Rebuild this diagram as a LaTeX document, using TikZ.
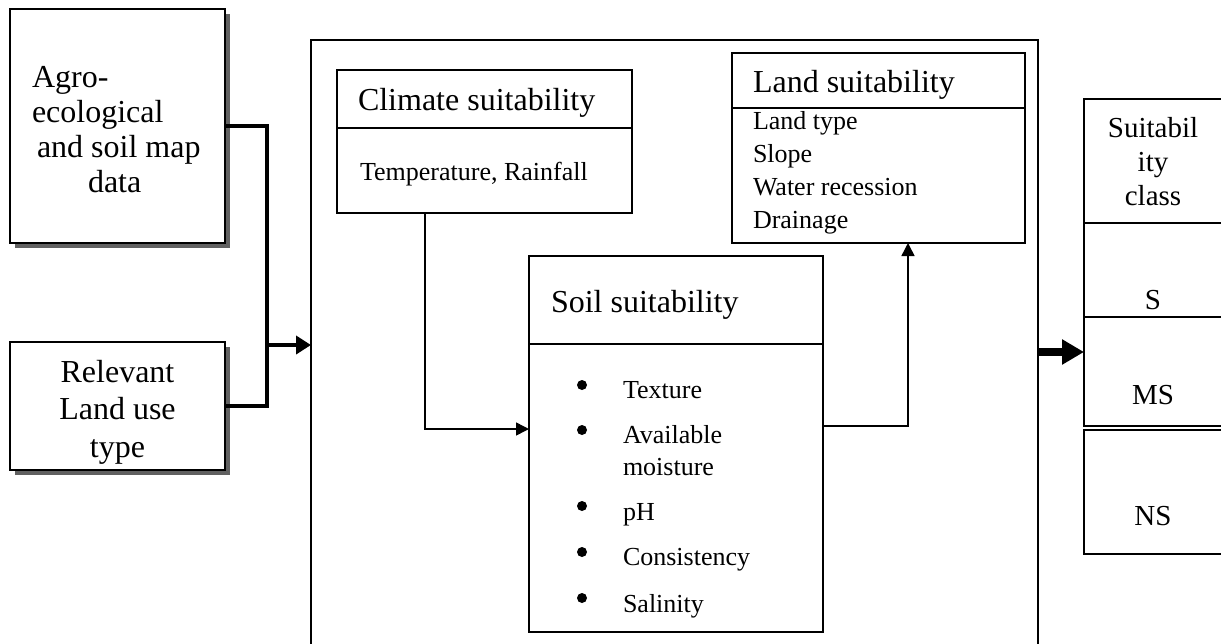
\documentclass[tikz,border=0pt]{standalone}
\usepackage{fontspec}
\setmainfont{Liberation Serif}
\usetikzlibrary{arrows.meta}
\newcommand\fsTitle{\fontsize{32}{35}\selectfont}
\newcommand\fsBody{\fontsize{26}{33}\selectfont}
\newcommand\fsSuit{\fontsize{29}{34}\selectfont}
\begin{document}
\begin{tikzpicture}[x=1pt,y=-1pt,
  box/.style={draw, line width=1.8pt, fill=white, inner sep=0pt, outer sep=0pt, anchor=north west},
  shadowbox/.style={fill=black!62, draw=none, inner sep=0pt, outer sep=0pt, anchor=north west},
  txt/.style={inner sep=0pt, outer sep=0pt},
  divider/.style={line width=1.8pt},
  thickline/.style={line width=4.5pt, line join=miter},
  thinarrow/.style={line width=1.5pt, -{Triangle[length=13pt,width=13pt]}},
  bigarrow/.style={line width=8pt, -{Triangle[length=22pt,width=24pt]}},
]
\useasboundingbox (0,0) rectangle (1221,643);
\clip (0,0) rectangle (1221,643);
\fill[white] (0,0) rectangle (1221,643);

% input boxes with shadows
\node[shadowbox, minimum width=215pt, minimum height=234pt] (agrosh) at (15,14) {};
\node[box, minimum width=215pt, minimum height=234pt] (agro) at (10,9) {};
\node[shadowbox, minimum width=215pt, minimum height=128pt] (relsh) at (15,347) {};
\node[box, minimum width=215pt, minimum height=128pt] (rel) at (10,342) {};

% big frame
\node[box, line width=2.6pt, minimum width=727pt, minimum height=640pt] (big) at (311,40) {};

% climate
\node[box, minimum width=295pt, minimum height=143pt] (climate) at (337,70) {};
\coordinate (ydivc) at (0,128);
\draw[divider] (climate.west |- ydivc) -- (climate.east |- ydivc);

% land
\node[box, minimum width=293pt, minimum height=190pt] (land) at (732,53) {};
\coordinate (ydivl) at (0,108);
\draw[divider] (land.west |- ydivl) -- (land.east |- ydivl);

% soil
\node[box, minimum width=294pt, minimum height=376pt] (soil) at (529,256) {};
\coordinate (ydivs) at (0,344);
\draw[divider] (soil.west |- ydivs) -- (soil.east |- ydivs);

% suitability class column
\node[box, minimum width=150pt, minimum height=233pt] (suit) at (1084,99) {};
\coordinate (ydivk) at (0,223);
\draw[divider] (suit.west |- ydivk) -- (suit.east |- ydivk);
\node[box, minimum width=150pt, minimum height=109pt] (ms) at (1084,317) {};
\node[box, minimum width=150pt, minimum height=124pt] (ns) at (1084,430) {};

% connectors
\coordinate (jtop) at (267,126);
\coordinate (jbot) at (267,406);
\coordinate (jmid) at (267,345);
\draw[thickline] (agro.east) -- (jtop) -- (jbot) -- (rel.east);
\draw[thickline, -{Triangle[length=15pt,width=18pt]}] (jmid) -- (big.west |- jmid);

\coordinate (xclim) at (425,0);
\coordinate (ysoilin) at (0,429);
\draw[thinarrow] (climate.south -| xclim) |- (soil.west |- ysoilin);

\coordinate (ysoilout) at (0,426);
\coordinate (xland) at (908,0);
\draw[thinarrow] (soil.east |- ysoilout) -| (land.south -| xland);

\coordinate (ybig) at (0,352);
\draw[bigarrow] (big.east |- ybig) -- (ms.west |- ybig);

% texts
\node[txt, anchor=base west] (agrotext) at (32,87) {\parbox[t]{190pt}{\fontsize{32}{35}\selectfont Agro-\\ecological\\\hspace*{5pt}and soil map\\\hspace*{56pt}data}};
\node[txt, anchor=base] (reltext) at (117.5,382) {\parbox[t]{215pt}{\centering\fontsize{32}{37.5}\selectfont Relevant\\Land use\\type}};

\node[txt, anchor=base west] (climatetitle) at (358,110) {\fsTitle Climate suitability};
\node[txt, anchor=base west] (climatebody) at (360,180) {\fsBody Temperature, Rainfall};

\node[txt, anchor=base west] (landtitle) at (753,92) {\fsTitle Land suitability};
\node[txt, anchor=base west] (landbody) at (753,129) {\parbox[t]{260pt}{\fsBody Land type\\Slope\\Water recession\\Drainage}};

\node[txt, anchor=base west] (soiltitle) at (551,312) {\fsTitle Soil suitability};
\node[txt, anchor=base west] (texture) at (623,398) {\fsBody Texture};
\node[txt, anchor=base west] (moisture) at (623,443) {\parbox[t]{180pt}{\fontsize{26}{32}\selectfont Available\\moisture}};
\node[txt, anchor=base west] (ph) at (623,520) {\fsBody pH};
\node[txt, anchor=base west] (consistency) at (623,565) {\fsBody Consistency};
\node[txt, anchor=base west] (salinity) at (623,612) {\fsBody Salinity};
\fill (582,385) circle[radius=5pt];
\fill (582,430) circle[radius=5pt];
\fill (582,506) circle[radius=5pt];
\fill (582,552) circle[radius=5pt];
\fill (582,598) circle[radius=5pt];

\node[txt, anchor=base] (suithead) at (1153,137) {\parbox[t]{130pt}{\centering\fsSuit Suitabil\\ity\\class}};
\node[txt, anchor=base] (stext) at (1153,309) {\fsSuit S};
\node[txt, anchor=base] (mstext) at (1153,404) {\fsSuit MS};
\node[txt, anchor=base] (nstext) at (1153,525) {\fsSuit NS};
\end{tikzpicture}
\end{document}
